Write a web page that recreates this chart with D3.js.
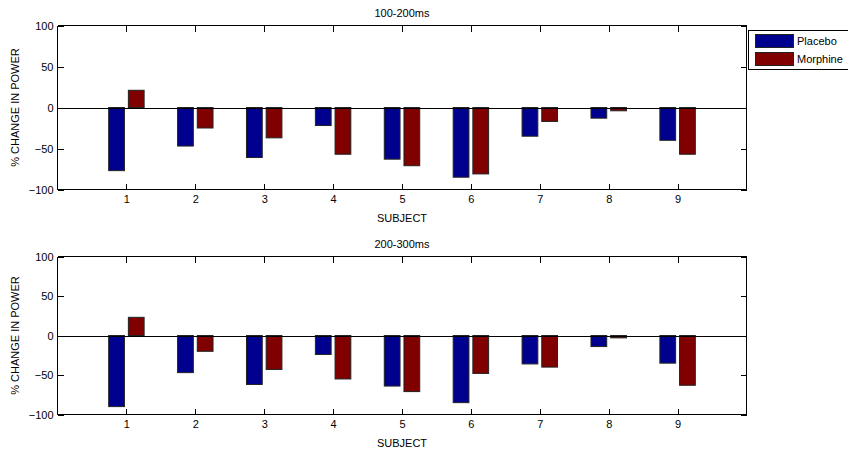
<!DOCTYPE html>
<html>
<head>
<meta charset="utf-8">
<script src="https://cdn.jsdelivr.net/npm/d3@7/dist/d3.min.js"></script>
<style>
  html, body { margin: 0; padding: 0; background: #fff; }
  svg { display: block; }
  text { font-family: "Liberation Sans", Arial, sans-serif; font-size: 11px; fill: #000; }
</style>
</head>
<body>
<svg id="chart" width="848" height="454"></svg>
<script>
// Subjects and per-window % change in power
const subjects = [1, 2, 3, 4, 5, 6, 7, 8, 9];
const seriesNames = ["Placebo", "Morphine"];
const seriesColors = ["#00008f", "#800000"];
const yTicks = [-100, -50, 0, 50, 100];

const placebo100to200 = [-77, -47, -61, -22, -63, -85, -35, -13, -40];
const morphine100to200 = [21, -25, -37, -57, -71, -81, -17, -4, -57];
const placebo200to300 = [-90, -47, -62, -24, -64, -85, -36, -14, -35];
const morphine200to300 = [23, -20, -43, -55, -71, -48, -40, -3, -63];

const panelTitles = ["100-200ms", "200-300ms"];

const svg = d3.select("#chart");

const left = 57.5, right = 746.5;
const panels = [
  { title: panelTitles[0], top: 25.5, bottom: 189.5, series: [placebo100to200, morphine100to200] },
  { title: panelTitles[1], top: 256.5, bottom: 414.5, series: [placebo200to300, morphine200to300] }
];

const x = d3.scaleLinear().domain([0, 10]).range([left, right]);
const groupWidth = Math.min(0.8, 2 / (2 + 1.5));
const offsets = [-groupWidth / 4, groupWidth / 4];
const barW = groupWidth / 2 * 0.8;
const tickLen = 6;

panels.forEach(p => {
  const y = d3.scaleLinear().domain([-100, 100]).range([p.bottom, p.top]);
  const g = svg.append("g");

  // bars
  p.series.forEach((vals, si) => {
    g.selectAll(null)
      .data(subjects.map((s, i) => ({ s, v: vals[i] })))
      .enter().append("rect")
      .attr("x", d => x(d.s + offsets[si] - barW / 2))
      .attr("width", d => x(d.s + offsets[si] + barW / 2) - x(d.s + offsets[si] - barW / 2))
      .attr("y", d => y(Math.max(0, d.v)))
      .attr("height", d => Math.abs(y(d.v) - y(0)))
      .attr("fill", seriesColors[si])
      .attr("stroke", "#222")
      .attr("stroke-width", 1);
  });

  // zero baseline
  g.append("line")
    .attr("x1", left).attr("x2", right)
    .attr("y1", Math.round(y(0)) + 0.5).attr("y2", Math.round(y(0)) + 0.5)
    .attr("stroke", "#000").attr("shape-rendering", "crispEdges");

  // bottom axis with inward ticks
  const xAxis = d3.axisBottom(x).tickValues(subjects).tickSize(-tickLen).tickPadding(6).tickFormat(d3.format("d"));
  const gx = g.append("g").attr("transform", `translate(0,${p.bottom})`).call(xAxis);
  // top axis ticks
  const gxt = g.append("g").attr("transform", `translate(0,${p.top})`).call(d3.axisTop(x).tickValues(subjects).tickSize(-tickLen).tickFormat(""));
  // left axis
  const gy = g.append("g").attr("transform", `translate(${left},0)`)
    .call(d3.axisLeft(y).tickValues(yTicks).tickSize(-tickLen).tickPadding(4).tickFormat(d3.format("d")));
  // right ticks
  const gyr = g.append("g").attr("transform", `translate(${right},0)`)
    .call(d3.axisRight(y).tickValues(yTicks).tickSize(-tickLen).tickFormat(""));

  [gx, gxt, gy, gyr].forEach(a => {
    a.selectAll(".domain").attr("stroke", "#000").attr("shape-rendering", "crispEdges");
    a.selectAll(".tick line").attr("stroke", "#000").attr("shape-rendering", "crispEdges");
    a.selectAll("text").attr("font-size", 11).attr("font-family", "Liberation Sans, Arial, sans-serif").attr("fill", "#000");
  });
  gx.selectAll(".domain").attr("d", `M${left},0H${right}`);
  gxt.selectAll(".domain").attr("d", `M${left},0H${right}`);
  gy.selectAll(".domain").attr("d", `M0,${p.bottom}V${p.top}`);
  gyr.selectAll(".domain").attr("d", `M0,${p.bottom}V${p.top}`);

  // title
  g.append("text").attr("x", (left + right) / 2).attr("y", p.top - 9)
    .attr("text-anchor", "middle").text(p.title);
  // x label
  g.append("text").attr("x", (left + right) / 2).attr("y", p.bottom + 32)
    .attr("text-anchor", "middle").text("SUBJECT");
  // y label
  g.append("text")
    .attr("transform", `translate(19,${(p.top + p.bottom) / 2}) rotate(-90)`)
    .attr("text-anchor", "middle").text("% CHANGE IN POWER");
});

// legend
const lg = svg.append("g");
lg.append("rect").attr("x", 748.5).attr("y", 30.5).attr("width", 110).attr("height", 39)
  .attr("fill", "#fff").attr("stroke", "#000").attr("shape-rendering", "crispEdges");
seriesNames.forEach((name, i) => {
  lg.append("rect").attr("x", 755.5).attr("y", 34.5 + i * 18).attr("width", 38).attr("height", 13)
    .attr("fill", seriesColors[i]).attr("stroke", "#222").attr("shape-rendering", "crispEdges");
  lg.append("text").attr("x", 797).attr("y", 45 + i * 18).text(name);
});
</script>
</body>
</html>
